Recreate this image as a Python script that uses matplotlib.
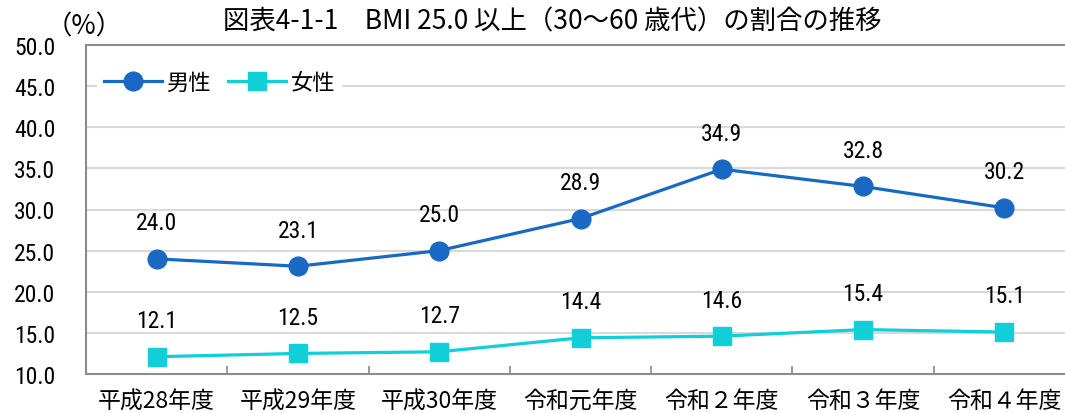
import numpy as np
import matplotlib.pyplot as plt
from matplotlib import font_manager

plt.rcParams['font.family'] = ['Noto Sans CJK JP', 'DejaVu Sans']

years = ['平成28年度', '平成29年度', '平成30年度', '令和元年度', '令和２年度', '令和３年度', '令和４年度']
male = [24.0, 23.1, 25.0, 28.9, 34.9, 32.8, 30.2]
female = [12.1, 12.5, 12.7, 14.4, 14.6, 15.4, 15.1]

male_color = '#1868c4'
female_color = '#10cfd9'

# narrow font for the numbers, if one is installed
installed = {f.name for f in font_manager.fontManager.ttflist}
narrow = [n for n in ['Liberation Sans Narrow', 'Roboto Condensed', 'DejaVu Sans Condensed',
                      'Open Sans Condensed'] if n in installed]
num_font = narrow[:1] + ['Noto Sans CJK JP']

fig = plt.figure(figsize=(10.65, 4.14), dpi=100)
ax = fig.add_axes([86 / 1065, 1 - 375 / 414, 989 / 1065, 329 / 414])

x = np.arange(len(years))
ax.plot(x, male, '-o', color=male_color, lw=2.3, ms=13.5, label='男性', zorder=3)
ax.plot(x, female, '-s', color=female_color, lw=2.3, ms=13.5, label='女性', zorder=3)

for xi, v in zip(x, male):
    ax.annotate(f'{v:.1f}', (xi, v), xytext=(0, 26), textcoords='offset points',
                ha='center', va='center', fontsize=17, family=num_font)
for xi, v in zip(x, female):
    ax.annotate(f'{v:.1f}', (xi, v), xytext=(0, 26), textcoords='offset points',
                ha='center', va='center', fontsize=17, family=num_font)

ax.set_xlim(-0.5, len(years) - 0.5)
ax.set_ylim(10, 50)
ax.set_yticks(np.arange(10, 51, 5))
ax.set_yticklabels([f'{t:.1f}' for t in np.arange(10, 51, 5)], fontsize=17, family=num_font)
ax.set_xticks(x)
ax.set_xticklabels(years, fontsize=16.5)
ax.tick_params(axis='x', length=0, pad=11)
ax.tick_params(axis='y', length=0, pad=22)
ax.set_xticks(np.arange(0.5, len(years) - 0.5, 1), minor=True)
ax.tick_params(axis='x', which='minor', direction='in', length=6, color='#888888', width=1.2)

ax.grid(axis='y', color='#d9d9d9', lw=1.5)
ax.set_axisbelow(True)
for s in ['left', 'bottom', 'top']:
    ax.spines[s].set_color('#8c8c8c')
    ax.spines[s].set_linewidth(1.5)
ax.spines['right'].set_visible(False)

leg = ax.legend(loc='upper left', bbox_to_anchor=(0.0, 0.975), ncol=2, frameon=True, fontsize=16,
                handlelength=2.6, columnspacing=0.8, handletextpad=0.2, borderpad=0.3)
leg.get_frame().set_edgecolor('none')
leg.get_frame().set_facecolor('white')
leg.get_frame().set_alpha(1)

fig.text(552 / 1065, 1 - 22 / 414, '図表4-1-1　BMI 25.0 以上（30～60 歳代）の割合の推移',
         ha='center', va='center', fontsize=19)
fig.text(84 / 1065, 1 - 27 / 414, '（%）', ha='center', va='center', fontsize=19)

fig.savefig('out.png', dpi=100)
